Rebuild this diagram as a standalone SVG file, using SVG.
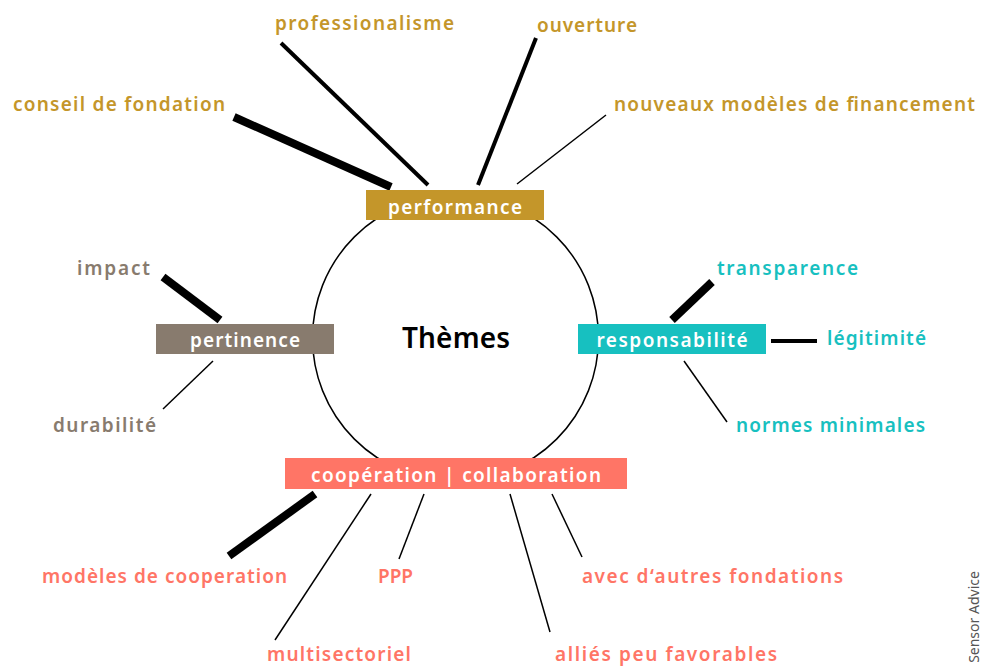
<svg xmlns="http://www.w3.org/2000/svg" width="982" height="667" viewBox="0 0 982 667">
<style>
text{font-family:"Noto Sans","Open Sans","Liberation Sans",sans-serif;font-weight:600;font-size:19px}
.gold{fill:#C4962A}.brown{fill:#887B6E}.teal{fill:#17C0C0}.coral{fill:#FF7566}
.box text{fill:#fff;text-anchor:middle}
.c line{stroke:#000;stroke-linecap:butt}
.w1{stroke-width:1.5}.w4{stroke-width:4}.w8{stroke-width:8}
</style>
<rect width="982" height="667" fill="#fff"/>
<g id="circle"><circle cx="455.5" cy="338" r="143" fill="none" stroke="#000" stroke-width="1.5"/></g>
<g class="c" id="connectors">
<line class="w8" x1="234" y1="117" x2="391" y2="187"/>
<line class="w4" x1="281" y1="43" x2="428" y2="185"/>
<line class="w4" x1="536" y1="38" x2="478" y2="185"/>
<line class="w1" x1="606" y1="115" x2="517" y2="184"/>
<line class="w8" x1="163" y1="277" x2="220" y2="320"/>
<line class="w1" x1="213" y1="361" x2="163" y2="409"/>
<line class="w8" x1="712" y1="282" x2="672" y2="320"/>
<line class="w4" x1="771" y1="341" x2="817" y2="341"/>
<line class="w1" x1="684" y1="361" x2="727" y2="422"/>
<line class="w8" x1="315" y1="494" x2="229" y2="556"/>
<line class="w1" x1="371" y1="494" x2="275" y2="640"/>
<line class="w1" x1="424" y1="494" x2="399" y2="559"/>
<line class="w1" x1="510" y1="494" x2="550" y2="632"/>
<line class="w1" x1="552" y1="494" x2="582" y2="557"/>
</g>
<g id="themes"><text x="456" y="348" text-anchor="middle" textLength="108" style="font-size:28px" fill="#000">Thèmes</text></g>
<g id="performance" class="box"><rect class="gold" x="366" y="190" width="178" height="30"/><text x="455" y="214" textLength="134">performance</text></g>
<g id="pertinence" class="box"><rect class="brown" x="156" y="324" width="178" height="30"/><text x="245" y="347" textLength="110">pertinence</text></g>
<g id="responsabilite" class="box"><rect class="teal" x="578" y="324" width="188" height="30"/><text x="672" y="347" textLength="151">responsabilité</text></g>
<g id="cooperation" class="box"><rect class="coral" x="285" y="458" width="342" height="31"/><text x="456" y="482" textLength="290">coopération | collaboration</text></g>
<g id="labels-performance" class="gold">
<text id="professionalisme" x="275" y="30" textLength="179">professionalisme</text>
<text id="ouverture" x="537" y="32" textLength="100">ouverture</text>
<text id="conseil" x="13" y="111" textLength="212">conseil de fondation</text>
<text id="nouveaux" x="614" y="111" textLength="361">nouveaux modèles de financement</text>
</g>
<g id="labels-pertinence" class="brown">
<text id="impact" x="77" y="275" textLength="73">impact</text>
<text id="durabilite" x="53" y="432" textLength="103">durabilité</text>
</g>
<g id="labels-responsabilite" class="teal">
<text id="transparence" x="717" y="275" textLength="141">transparence</text>
<text id="legitimite" x="827" y="345" textLength="99">légitimité</text>
<text id="normes" x="736" y="432" textLength="189">normes minimales</text>
</g>
<g id="labels-cooperation" class="coral">
<text id="modeles" x="42" y="583" textLength="245">modèles de cooperation</text>
<text id="ppp" x="378" y="583" textLength="35">PPP</text>
<text id="avec" x="582" y="583" textLength="261">avec d‘autres fondations</text>
<text id="multi" x="267" y="661" textLength="144">multisectoriel</text>
<text id="allies" x="555" y="661" textLength="222">alliés peu favorables</text>
</g>
<g id="credit"><text transform="translate(979,617) rotate(-90)" text-anchor="middle" style="font-size:14px;font-weight:normal" fill="#555">Sensor Advice</text></g>
</svg>
